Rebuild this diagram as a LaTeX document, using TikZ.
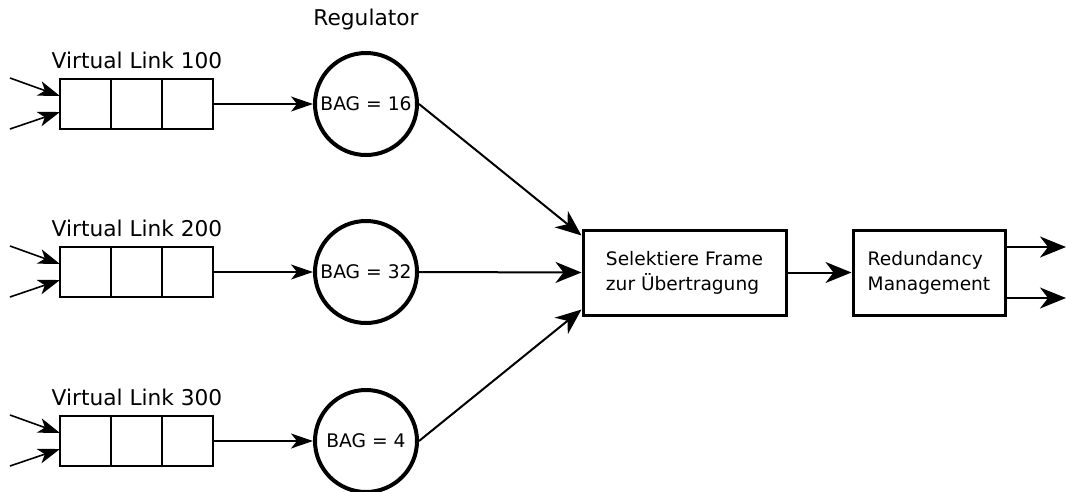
\documentclass[tikz,border=0pt]{standalone}
\usepackage{fontspec}
\setmainfont{DejaVu Sans}
\usetikzlibrary{arrows.meta}
\begin{document}
\begin{tikzpicture}[x=1pt,y=-1pt,
  lbl/.style={font=\fontsize{21.7}{25}\selectfont, inner sep=0pt},
  cell/.style={draw, line width=2pt, minimum width=51pt, minimum height=50pt, inner sep=0pt},
  reg/.style={draw, circle, line width=4pt, minimum size=102pt, inner sep=0pt, font=\fontsize{18.7}{22}\selectfont},
  blk/.style={draw, line width=3pt, inner sep=0pt, align=left, font=\fontsize{18.6}{25}\selectfont},
  arr/.style={line width=1.6pt, -{Stealth[length=22pt, width=15pt, inset=6pt]}},
  barr/.style={line width=2pt, -{Stealth[length=26pt, width=21pt, inset=8pt]}},
  ]
\useasboundingbox (0,0) rectangle (1066,491);
% Regulator label
\node[lbl] (regl) at (366,20) {Regulator};
% queues
\foreach \i/\y/\n in {1/104/100, 2/272/200, 3/441/300}{
  \node[cell] (q\i a) at (85.5,\y) {};
  \node[cell] (q\i b) at (136.5,\y) {};
  \node[cell] (q\i c) at (187.5,\y) {};
  \node[lbl] (vl\i) at (137,\y-44) {Virtual Link \n};
  \coordinate (in\i a) at (10,\y-26);
  \coordinate (in\i b) at (10,\y+25);
  \draw[arr] (in\i a) -- (60,\y-8);
  \draw[arr] (in\i b) -- (60,\y+8);
}
\node[reg] (r1) at (366,104) {BAG = 16};
\node[reg] (r2) at (366,272) {BAG = 32};
\node[reg] (r3) at (366,441) {BAG = 4};
\draw[arr] (q1c.east) -- (r1.west);
\draw[arr] (q2c.east) -- (r2.west);
\draw[arr] (q3c.east) -- (r3.west);
\node[blk, minimum width=203pt, minimum height=85pt] (sel) at (684.5,272.5) {Selektiere Frame\\zur Übertragung};
\node[blk, minimum width=152pt, minimum height=85pt] (red) at (929,272.5) {Redundancy\\Management};
\draw[barr] (r1.east) -- ([yshift=-7pt]sel.north west);
\draw[barr] (r2.east) -- (sel.west);
\draw[barr] (r3.east) -- ([yshift=7pt]sel.south west);
\draw[barr] (sel.east) -- (red.west);
\coordinate (o1) at (1066,247);
\coordinate (o2) at (1066,298);
\draw[barr] (red.east |- o1) -- (o1);
\draw[barr] (red.east |- o2) -- (o2);
\end{tikzpicture}
\end{document}
